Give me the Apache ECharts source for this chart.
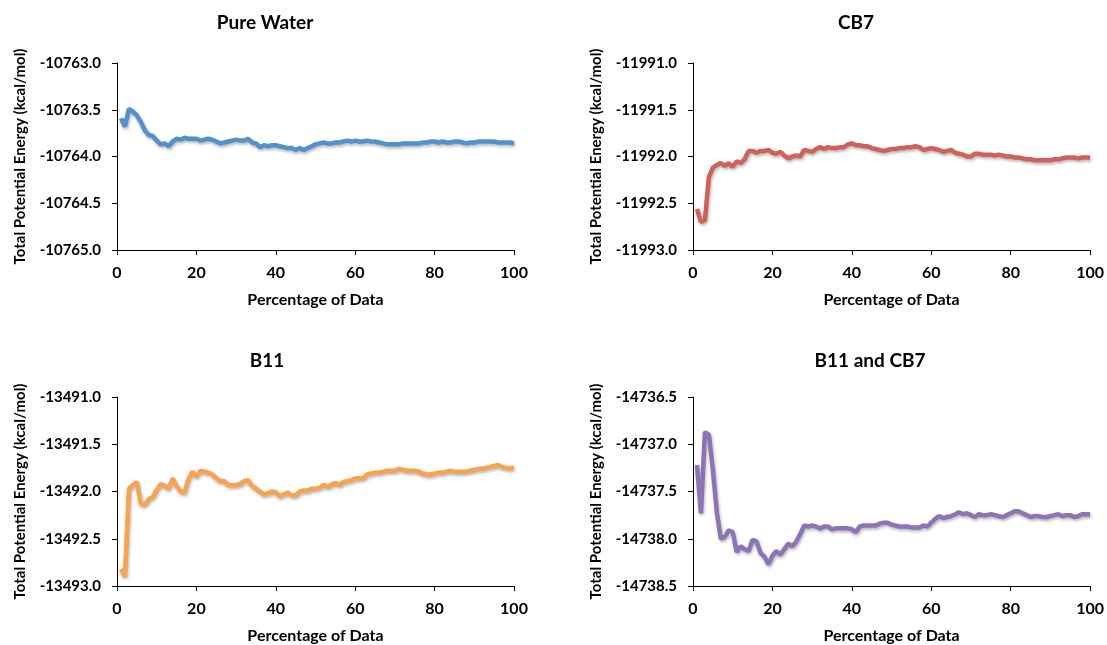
<!DOCTYPE html>
<html>
<head>
<meta charset="utf-8">
<script src="https://cdn.jsdelivr.net/npm/echarts@6/dist/echarts.min.js"></script>
<style>
html,body{margin:0;padding:0;background:#fff;}
#c{width:1107px;height:645px;}
</style>
</head>
<body>
<div id="c"></div>
<script>
const xs = [1,2,3,4,5,6,7,8,9,10,11,12,13,14,15,16,17,18,19,20,21,22,23,24,25,26,27,28,29,30,31,32,33,34,35,36,37,38,39,40,41,42,43,44,45,46,47,48,49,50,51,52,53,54,55,56,57,58,59,60,61,62,63,64,65,66,67,68,69,70,71,72,73,74,75,76,77,78,79,80,81,82,83,84,85,86,87,88,89,90,91,92,93,94,95,96,97,98,99,100];

const titles = ['Pure Water', 'CB7', 'B11', 'B11 and CB7'];
const xAxisName = 'Percentage of Data';
const yAxisName = 'Total Potential Energy (kcal/mol)';
const xTicks = [0, 20, 40, 60, 80, 100];
const yRanges = [[-10765.0, -10763.0], [-11993.0, -11991.0], [-13493.0, -13491.0], [-14738.5, -14736.5]];

const pureWater = [-10763.59,-10763.68,-10763.49,-10763.52,-10763.56,-10763.63,-10763.72,-10763.77,-10763.78,-10763.83,
-10763.87,-10763.86,-10763.89,-10763.84,-10763.81,-10763.82,-10763.80,-10763.81,-10763.81,-10763.81,
-10763.83,-10763.82,-10763.81,-10763.82,-10763.84,-10763.86,-10763.85,-10763.84,-10763.83,-10763.82,
-10763.83,-10763.83,-10763.81,-10763.85,-10763.86,-10763.90,-10763.88,-10763.89,-10763.88,-10763.88,
-10763.89,-10763.90,-10763.91,-10763.91,-10763.93,-10763.91,-10763.93,-10763.91,-10763.89,-10763.87,
-10763.86,-10763.85,-10763.86,-10763.86,-10763.85,-10763.85,-10763.84,-10763.83,-10763.84,-10763.83,
-10763.84,-10763.84,-10763.83,-10763.84,-10763.84,-10763.85,-10763.86,-10763.87,-10763.87,-10763.87,
-10763.87,-10763.86,-10763.86,-10763.86,-10763.86,-10763.86,-10763.85,-10763.85,-10763.84,-10763.84,
-10763.85,-10763.84,-10763.85,-10763.85,-10763.84,-10763.84,-10763.85,-10763.86,-10763.85,-10763.85,
-10763.84,-10763.84,-10763.84,-10763.84,-10763.84,-10763.85,-10763.85,-10763.85,-10763.85,-10763.86];

const cb7 = [-11992.56,-11992.70,-11992.68,-11992.22,-11992.12,-11992.09,-11992.07,-11992.10,-11992.07,-11992.11,
-11992.05,-11992.07,-11992.03,-11991.94,-11991.94,-11991.96,-11991.94,-11991.94,-11991.93,-11991.96,
-11991.97,-11991.95,-11991.99,-11992.02,-11992.00,-11991.99,-11992.00,-11991.93,-11991.94,-11991.95,
-11991.92,-11991.90,-11991.92,-11991.90,-11991.91,-11991.91,-11991.90,-11991.90,-11991.87,-11991.86,
-11991.88,-11991.88,-11991.89,-11991.89,-11991.91,-11991.92,-11991.93,-11991.94,-11991.93,-11991.92,
-11991.92,-11991.91,-11991.91,-11991.90,-11991.90,-11991.89,-11991.90,-11991.93,-11991.92,-11991.91,
-11991.92,-11991.93,-11991.95,-11991.94,-11991.93,-11991.96,-11991.97,-11991.98,-11992.00,-11992.00,
-11991.97,-11991.97,-11991.98,-11991.98,-11991.98,-11991.99,-11991.98,-11991.99,-11992.00,-11992.00,
-11992.01,-11992.01,-11992.02,-11992.03,-11992.03,-11992.04,-11992.04,-11992.04,-11992.04,-11992.04,
-11992.03,-11992.03,-11992.02,-11992.01,-11992.01,-11992.01,-11992.02,-11992.01,-11992.01,-11992.01];

const b11 = [-13492.82,-13492.90,-13491.97,-13491.93,-13491.90,-13492.13,-13492.14,-13492.08,-13492.06,-13491.98,
-13491.92,-13491.94,-13491.97,-13491.86,-13491.94,-13492.00,-13492.01,-13491.87,-13491.79,-13491.84,
-13491.78,-13491.79,-13491.80,-13491.82,-13491.86,-13491.89,-13491.89,-13491.93,-13491.93,-13491.93,
-13491.92,-13491.89,-13491.88,-13491.94,-13491.97,-13492.00,-13492.03,-13492.02,-13492.00,-13492.01,
-13492.05,-13492.03,-13492.01,-13492.04,-13492.04,-13492.00,-13491.99,-13491.99,-13491.97,-13491.97,
-13491.96,-13491.93,-13491.95,-13491.93,-13491.91,-13491.93,-13491.90,-13491.89,-13491.88,-13491.86,
-13491.86,-13491.86,-13491.82,-13491.81,-13491.80,-13491.80,-13491.79,-13491.78,-13491.78,-13491.78,
-13491.76,-13491.77,-13491.78,-13491.78,-13491.78,-13491.79,-13491.81,-13491.82,-13491.82,-13491.81,
-13491.80,-13491.80,-13491.79,-13491.78,-13491.79,-13491.79,-13491.79,-13491.79,-13491.78,-13491.77,
-13491.76,-13491.76,-13491.75,-13491.74,-13491.73,-13491.72,-13491.74,-13491.75,-13491.75,-13491.75];

const b11cb7 = [-14737.22,-14737.73,-14736.87,-14736.90,-14737.27,-14737.72,-14738.00,-14737.98,-14737.91,-14737.93,
-14738.14,-14738.08,-14738.11,-14738.13,-14738.01,-14738.03,-14738.15,-14738.19,-14738.27,-14738.18,
-14738.13,-14738.17,-14738.11,-14738.05,-14738.08,-14738.03,-14737.95,-14737.86,-14737.87,-14737.86,
-14737.87,-14737.89,-14737.87,-14737.87,-14737.90,-14737.89,-14737.89,-14737.89,-14737.89,-14737.90,
-14737.93,-14737.87,-14737.86,-14737.86,-14737.86,-14737.86,-14737.84,-14737.83,-14737.83,-14737.85,
-14737.86,-14737.87,-14737.87,-14737.87,-14737.88,-14737.88,-14737.88,-14737.86,-14737.87,-14737.83,
-14737.79,-14737.76,-14737.78,-14737.77,-14737.76,-14737.74,-14737.72,-14737.74,-14737.73,-14737.75,
-14737.77,-14737.74,-14737.75,-14737.75,-14737.74,-14737.75,-14737.76,-14737.77,-14737.75,-14737.73,
-14737.71,-14737.71,-14737.73,-14737.75,-14737.77,-14737.76,-14737.76,-14737.77,-14737.77,-14737.76,
-14737.75,-14737.74,-14737.76,-14737.75,-14737.75,-14737.77,-14737.76,-14737.74,-14737.74,-14737.74];

const seriesData = [pureWater, cb7, b11, b11cb7];
const colors = ['#5291cc', '#d0615a', '#f8a34f', '#8d74b6'];

const FONT = 'Lato';
const grids = [
  {left: 117, top: 63, width: 397, height: 187},
  {left: 693, top: 63, width: 398, height: 187},
  {left: 117, top: 397, width: 397, height: 190},
  {left: 693, top: 397, width: 398, height: 190}
];
const titlePos = [[265, 23], [856, 23], [267, 361], [870, 361]];

const chart = echarts.init(document.getElementById('c'), null, {renderer: 'canvas'});
const option = {
  backgroundColor: '#fff',
  animation: false,
  grid: grids,
  graphic: titles.map((t, i) => ({
    type: 'text', x: titlePos[i][0], y: titlePos[i][1],
    style: {text: t, font: 'bold 19px ' + FONT, fill: '#000', textAlign: 'center', textVerticalAlign: 'middle'}
  })),
  xAxis: grids.map((g, i) => ({
    type: 'value', gridIndex: i, min: xTicks[0], max: xTicks[xTicks.length - 1], interval: 20,
    name: xAxisName, nameLocation: 'middle', nameGap: 42,
    nameTextStyle: {fontFamily: FONT, fontWeight: 'bold', fontSize: 16, color: '#000'},
    axisLine: {show: true, onZero: false, lineStyle: {color: '#000', width: 1}},
    axisTick: {show: true, inside: false, length: 5, lineStyle: {color: '#000'}},
    axisLabel: {fontFamily: FONT, fontWeight: 'bold', fontSize: 16, color: '#000', margin: 15},
    splitLine: {show: false}
  })),
  yAxis: grids.map((g, i) => ({
    type: 'value', gridIndex: i, min: yRanges[i][0], max: yRanges[i][1], interval: 0.5,
    name: yAxisName, nameLocation: 'middle', nameGap: 89, nameRotate: 90,
    nameTextStyle: {fontFamily: FONT, fontWeight: 'bold', fontSize: 15, color: '#000'},
    axisLine: {show: true, onZero: false, lineStyle: {color: '#000', width: 1}},
    axisTick: {show: true, inside: false, length: 5, lineStyle: {color: '#000'}},
    axisLabel: {fontFamily: FONT, fontWeight: 'bold', fontSize: 15, color: '#000', margin: 16,
      formatter: v => v.toFixed(1)},
    splitLine: {show: false}
  })),
  series: seriesData.map((d, i) => ({
    type: 'line', xAxisIndex: i, yAxisIndex: i,
    data: xs.map((x, k) => [x, d[k]]),
    showSymbol: false, symbol: 'none',
    lineStyle: {color: colors[i], width: 4.5, shadowColor: 'rgba(0,0,0,0.28)', shadowBlur: 3, shadowOffsetX: 1, shadowOffsetY: 2},
    silent: true
  }))
};
chart.setOption(option);
</script>
</body>
</html>
